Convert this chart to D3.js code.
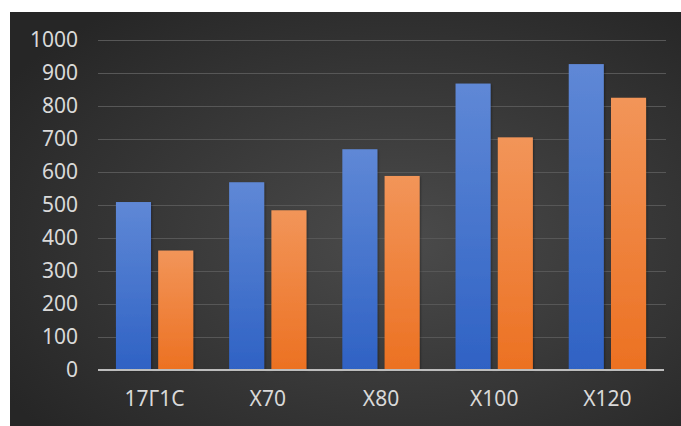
<!DOCTYPE html>
<html>
<head>
<meta charset="utf-8">
<script src="https://cdn.jsdelivr.net/npm/d3@7"></script>
<style>
  html, body { margin: 0; padding: 0; background: #ffffff; }
  svg { display: block; }
  .tick text { font-family: "Noto Sans", "DejaVu Sans", sans-serif; }
</style>
</head>
<body>
<svg id="chart" width="681" height="426"></svg>
<script>
// Steel grades and their two strength series
const categories = ["17Г1С", "Х70", "Х80", "Х100", "Х120"];
const seriesNames = ["s1", "s2"];
const blueValues = [509, 569, 669, 868, 927];
const orangeValues = [362, 484, 588, 705, 825];
const yTicks = [0, 100, 200, 300, 400, 500, 600, 700, 800, 900, 1000];

const rows = categories.map((c, i) => ({ cat: c, s1: blueValues[i], s2: orangeValues[i] }));

const svg = d3.select("#chart");
const defs = svg.append("defs");

// dark backdrop with a soft lighter centre
const bg = defs.append("radialGradient").attr("id", "bgGrad")
  .attr("cx", "58%").attr("cy", "55%").attr("r", "70%");
bg.append("stop").attr("offset", "0%").attr("stop-color", "#4b4b4b");
bg.append("stop").attr("offset", "100%").attr("stop-color", "#262626");

const fills = {
  s1: ["#5f88d6", "#2f62c4"],
  s2: ["#f29559", "#ec7122"]
};
Object.entries(fills).forEach(([k, [c0, c1]]) => {
  const g = defs.append("linearGradient").attr("id", "grad-" + k)
    .attr("x1", 0).attr("y1", 0).attr("x2", 0).attr("y2", 1);
  g.append("stop").attr("offset", "0%").attr("stop-color", c0);
  g.append("stop").attr("offset", "100%").attr("stop-color", c1);
});

const shadow = defs.append("filter").attr("id", "barShadow")
  .attr("x", "-20%").attr("y", "-5%").attr("width", "150%").attr("height", "115%");
shadow.append("feDropShadow").attr("dx", 1).attr("dy", 1).attr("stdDeviation", 1)
  .attr("flood-color", "#000").attr("flood-opacity", 0.35);

svg.append("rect").attr("x", 10).attr("y", 12).attr("width", 671).attr("height", 414)
  .attr("fill", "url(#bgGrad)");

const plotLeft = 98, plotRight = 664, plotTop = 40, plotBottom = 370;

const y = d3.scaleLinear().domain([0, 1000]).range([plotBottom, plotTop]);
const x0 = d3.scaleBand().domain(categories).range([plotLeft, plotRight])
  .paddingInner(0.317).paddingOuter(0.1585);
const x1 = d3.scaleBand().domain(seriesNames).range([0, x0.bandwidth()]).paddingInner(0.17);

// horizontal gridlines
svg.append("g").selectAll("line").data(yTicks.filter(t => t > 0)).join("line")
  .attr("x1", plotLeft).attr("x2", plotRight + 2)
  .attr("y1", d => Math.round(y(d)) + 0.5).attr("y2", d => Math.round(y(d)) + 0.5)
  .attr("stroke", "#575757").attr("stroke-width", 1);

// bars
const groups = svg.append("g").selectAll("g").data(rows).join("g")
  .attr("transform", d => `translate(${x0(d.cat)},0)`);
groups.selectAll("rect").data(d => seriesNames.map(k => ({ key: k, value: d[k] }))).join("rect")
  .attr("x", d => x1(d.key))
  .attr("width", x1.bandwidth())
  .attr("y", d => y(d.value))
  .attr("height", d => y(0) - y(d.value))
  .attr("fill", d => `url(#grad-${d.key})`)
  .attr("filter", "url(#barShadow)");

// baseline
svg.append("line").attr("x1", plotLeft).attr("x2", plotRight)
  .attr("y1", y(0)).attr("y2", y(0))
  .attr("stroke", "#bdbdbd").attr("stroke-width", 2);

// y axis labels
const yAxis = svg.append("g").attr("transform", `translate(${plotLeft},0)`)
  .call(d3.axisLeft(y).tickValues(yTicks).tickSize(0).tickPadding(20).tickFormat(d3.format("d")));
yAxis.select(".domain").remove();
yAxis.selectAll("text").attr("fill", "#d9d9d9").attr("font-size", 21);

// x axis labels
const xAxis = svg.append("g").attr("transform", `translate(0,${plotBottom})`)
  .call(d3.axisBottom(x0).tickSize(0).tickPadding(21));
xAxis.select(".domain").remove();
xAxis.selectAll("text").attr("fill", "#d9d9d9").attr("font-size", 21);
</script>
</body>
</html>
